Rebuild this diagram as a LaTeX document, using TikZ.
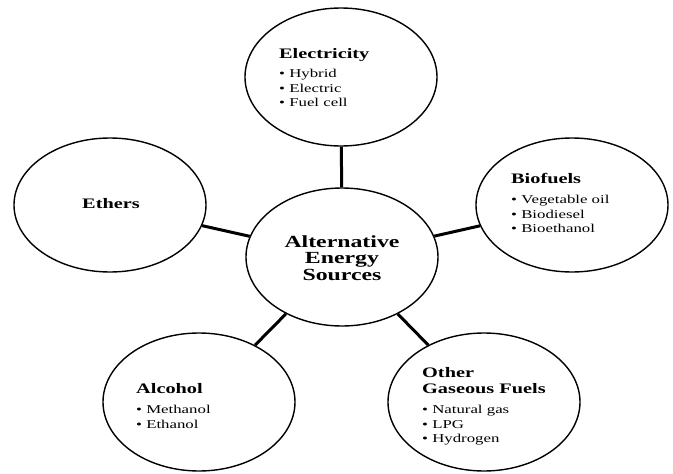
\documentclass[tikz,border=0pt]{standalone}
\usepackage{fontspec}
\setmainfont{Liberation Serif}[FakeStretch=1.4]
\usetikzlibrary{shapes.geometric}
\begin{document}
\begin{tikzpicture}[x=1pt,y=-1pt]
	\tikzstyle{source} = [ellipse, draw, line width=1.4pt, minimum width=192pt, minimum height=138pt, inner sep=0pt]
	\tikzstyle{head} = [inner sep=0pt, align=left, font=\fontsize{14.5}{16}\selectfont\bfseries]
	\tikzstyle{items} = [inner sep=0pt, align=left, anchor=north west, font=\fontsize{12}{14.7}\selectfont]
	\tikzstyle{link} = [line width=3pt]
	\useasboundingbox (0,0) rectangle (673,474);
	
	% Define the ellipses
	\node[source] (centre) at (342,257) {};
	\node[source] (elec) at (341,77) {};
	\node[source, minimum height=134pt] (bio) at (572,205) {};
	\node[source, minimum height=134pt] (ether) at (110,205) {};
	\node[source] (alc) at (199,402) {};
	\node[source] (gas) at (484,402) {};
	
	% Texts inside the ellipses
	\node[align=center, anchor=north, inner sep=0pt, font=\fontsize{17}{16.5}\selectfont\bfseries] (centretext) at (342,235.4) {Alternative\\Energy\\Sources};
	\node[head, anchor=base west] (electitle) at (279,58) {Electricity};
	\node[items] (eleclist) at (279,69) {\textbullet\ Hybrid\\\textbullet\ Electric\\\textbullet\ Fuel cell};
	\node[head, anchor=base west] (biotitle) at (511,183) {Biofuels};
	\node[items] (biolist) at (511,195) {\textbullet\ Vegetable oil\\\textbullet\ Biodiesel\\\textbullet\ Bioethanol};
	\node[head, anchor=base] (ethertitle) at (111,208) {Ethers};
	\node[head, anchor=base west] (alctitle) at (136,393) {Alcohol};
	\node[items] (alclist) at (136,405) {\textbullet\ Methanol\\\textbullet\ Ethanol};
	\node[head, anchor=north west] (gastitle) at (422,367.4) {Other\\Gaseous Fuels};
	\node[items] (gaslist) at (422,405) {\textbullet\ Natural gas\\\textbullet\ LPG\\\textbullet\ Hydrogen};
	
	% Connect the centre to each source
	\draw[link] (centre) -- (elec);
	\draw[link] (centre) -- (bio);
	\draw[link] (centre) -- (ether);
	\draw[link] (centre) -- (alc);
	\draw[link] (centre) -- (gas);
	
\end{tikzpicture}
\end{document}
